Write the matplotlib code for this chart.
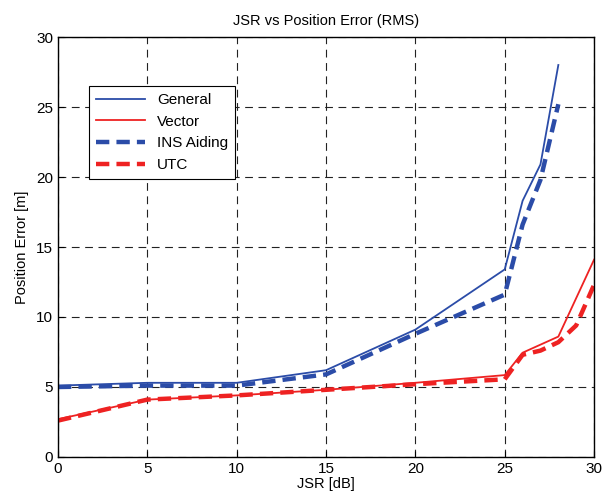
import matplotlib
matplotlib.use("Agg")
from matplotlib import pyplot as plt

plt.rcParams['font.family'] = ['Liberation Sans', 'DejaVu Sans']

# JSR values [dB]
jsr_general = [0, 5, 10, 15, 20, 25, 26, 27, 28]
general = [5.1, 5.3, 5.3, 6.2, 9.1, 13.4, 18.3, 20.9, 28.0]

jsr_ins = [0, 5, 10, 15, 20, 25, 26, 27, 28]
ins_aiding = [5.0, 5.1, 5.1, 5.9, 8.8, 11.6, 16.6, 19.8, 25.2]

jsr_vector = [0, 5, 10, 15, 20, 25, 26, 28, 30]
vector = [2.7, 4.1, 4.4, 4.8, 5.3, 5.85, 7.45, 8.6, 14.1]

jsr_utc = [0, 5, 10, 15, 20, 25, 26, 27, 28, 29, 30]
utc = [2.6, 4.1, 4.4, 4.8, 5.2, 5.55, 7.3, 7.6, 8.2, 9.4, 12.3]

blue = "#2b4ca8"
red = "#ee2222"

fig = plt.figure(figsize=(6.03, 5.0), dpi=100)
ax = fig.add_axes([0.0962, 0.086, 0.889, 0.84])

ax.plot(jsr_general, general, color=blue, lw=1.3, label="General")
ax.plot(jsr_vector, vector, color=red, lw=1.3, label="Vector")
ax.plot(jsr_ins, ins_aiding, color=blue, lw=3.2, ls=(0, (3, 1.6)), label="INS Aiding")
ax.plot(jsr_utc, utc, color=red, lw=3.2, ls=(0, (3, 1.6)), label="UTC")

ax.set_xlim(0, 30)
ax.set_ylim(0, 30)
ax.set_xticks(range(0, 31, 5))
ax.set_yticks(range(0, 31, 5))
ax.grid(True, color="#222222", ls=(0, (7, 5)), lw=0.8)
ax.tick_params(direction="in", labelsize=11, length=4)
for s in ax.spines.values():
    s.set_linewidth(1.0)

ax.set_title("JSR vs Position Error (RMS)", fontsize=10.5, pad=9)
ax.set_xlabel("JSR [dB]", fontsize=10.5, labelpad=1)
ax.set_ylabel("Position Error [m]", fontsize=10.5, labelpad=5)

leg = ax.legend(loc="upper left", bbox_to_anchor=(0.058, 0.883), fontsize=11,
                fancybox=False, framealpha=1, edgecolor="black",
                handlelength=3.2, borderaxespad=0, labelspacing=0.5,
                borderpad=0.45)
leg.get_frame().set_linewidth(0.8)

fig.savefig("out.png", dpi=100)
